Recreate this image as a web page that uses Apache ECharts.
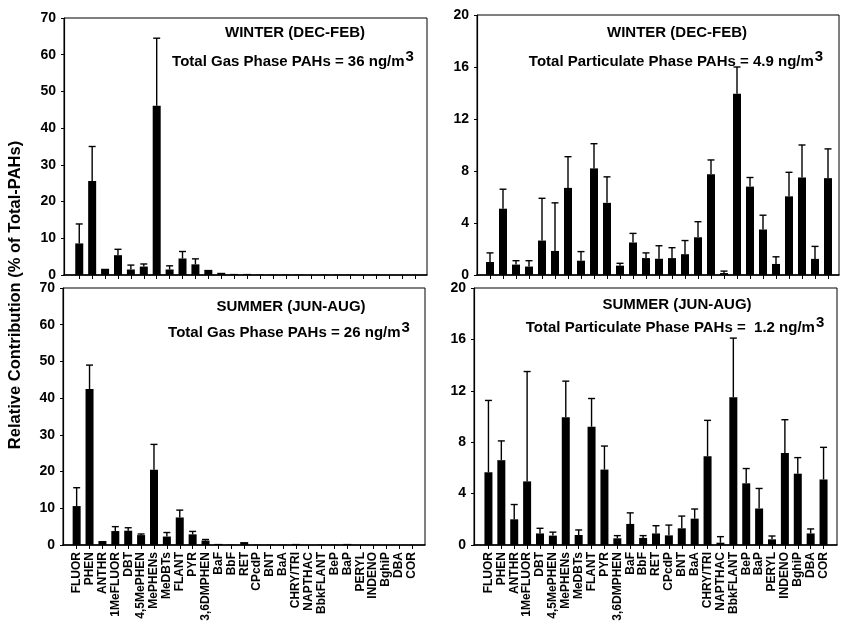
<!DOCTYPE html>
<html>
<head>
<meta charset="utf-8">
<script src="https://cdn.jsdelivr.net/npm/echarts@6/dist/echarts.min.js"></script>
<style>
  html, body { margin: 0; padding: 0; background: #fff; }
  #chart { width: 841px; height: 625px; }
</style>
</head>
<body>
<div id="chart"></div>
<script>
// Compound abbreviations along the x axis
const categories = ['FLUOR', 'PHEN', 'ANTHR', '1MeFLUOR', 'DBT', '4,5MePHEN', 'MePHENs', 'MeDBTs',
  'FLANT', 'PYR', '3,6DMPHEN', 'BaF', 'BbF', 'RET', 'CPcdP', 'BNT', 'BaA', 'CHRY/TRI', 'NAPTHAC',
  'BbkFLANT', 'BeP', 'BaP', 'PERYL', 'INDENO', 'BghiP', 'DBA', 'COR'];

// Winter gas phase (% of total PAHs) and upper error limits
const winterGas = [8.6, 25.6, 1.7, 5.4, 1.5, 2.3, 46.1, 1.5, 4.5, 2.9, 1.4, 0.6, 0.3, 0.3, 0.1, 0.1,
  0.1, 0.1, 0, 0.1, 0.1, 0.1, 0, 0.1, 0, 0, 0];
const winterGasUpper = [13.9, 35, null, 7.0, 2.7, 3.0, 64.5, 2.5, 6.4, 4.4, null, null, null, null,
  null, null, null, null, null, null, null, null, null, null, null, null, null];

// Winter particulate phase
const winterPart = [1.0, 5.1, 0.8, 0.65, 2.65, 1.85, 6.7, 1.1, 8.2, 5.55, 0.72, 2.5, 1.3, 1.25, 1.3,
  1.6, 2.9, 7.75, 0.15, 13.95, 6.8, 3.5, 0.85, 6.05, 7.5, 1.24, 7.45];
const winterPartUpper = [1.7, 6.6, 1.1, 1.1, 5.9, 5.55, 9.1, 1.8, 10.1, 7.55, 0.9, 3.2, 1.7, 2.25, 2.1,
  2.65, 4.1, 8.85, 0.3, 16.0, 7.5, 4.6, 1.4, 7.9, 10.0, 2.2, 9.7];

// Summer gas phase
const summerGas = [10.6, 42.5, 1.1, 3.8, 3.9, 2.7, 20.5, 2.3, 7.5, 2.9, 1.2, 0.3, 0.1, 0.8, 0.1, 0.1,
  0.1, 0.3, 0, 0.1, 0.1, 0.3, 0, 0, 0, 0, 0];
const summerGasUpper = [15.6, 49, null, 5.0, 4.7, 3.0, 27.4, 3.4, 9.5, 3.7, 1.5, null, null, null,
  null, null, null, null, null, null, null, null, null, null, null, null, null];

// Summer particulate phase
const summerPart = [5.66, 6.6, 2.0, 4.95, 0.9, 0.73, 9.95, 0.78, 9.2, 5.87, 0.52, 1.64, 0.55, 0.9, 0.75,
  1.3, 2.05, 6.9, 0.18, 11.5, 4.8, 2.84, 0.44, 7.15, 5.55, 0.9, 5.1];
const summerPartUpper = [11.25, 8.1, 3.15, 13.5, 1.3, 1.0, 12.75, 1.17, 11.4, 7.7, 0.73, 2.5, 0.73, 1.5,
  1.55, 2.25, 2.8, 9.7, 0.65, 16.1, 5.95, 4.4, 0.7, 9.75, 6.8, 1.25, 7.6];

// Panel headings
const seasonLabels = ['WINTER (DEC-FEB)', 'WINTER (DEC-FEB)', 'SUMMER (JUN-AUG)', 'SUMMER (JUN-AUG)'];
const totalLabels = ['Total Gas Phase PAHs = 36 ng/m', 'Total Particulate Phase PAHs = 4.9 ng/m',
  'Total Gas Phase PAHs = 26 ng/m', 'Total Particulate Phase PAHs =  1.2 ng/m'];
const yTitle = 'Relative Contribution (% of Total-PAHs)';

const FONT = '"Liberation Sans", Arial, Helvetica, sans-serif';

// Layout of the four panels: frame box and the narrower band holding the categories
const panels = [
  { frame: { left: 64, top: 18, width: 363, height: 257 }, band: { left: 72.8, width: 348.5 },
    max: 70, step: 10, values: winterGas, upper: winterGasUpper, labels: false,
    head: [295, 33], total: [293, 62] },
  { frame: { left: 477, top: 15, width: 362, height: 260 }, band: { left: 483.5, width: 351 },
    max: 20, step: 4, values: winterPart, upper: winterPartUpper, labels: false,
    head: [677, 33], total: [676, 62] },
  { frame: { left: 63, top: 288, width: 362, height: 257 }, band: { left: 70.2, width: 348 },
    max: 70, step: 10, values: summerGas, upper: summerGasUpper, labels: true,
    head: [291, 307], total: [289, 333] },
  { frame: { left: 474, top: 288, width: 363, height: 257 }, band: { left: 482, width: 348 },
    max: 20, step: 4, values: summerPart, upper: summerPartUpper, labels: true,
    head: [677, 305], total: [675, 328] }
];

const grid = [], xAxis = [], yAxis = [], series = [], graphic = [];

panels.forEach((p, k) => {
  const fi = grid.length;
  grid.push(Object.assign({ show: true, borderColor: '#000', borderWidth: 1, backgroundColor: 'transparent' }, p.frame));
  const di = grid.length;
  grid.push({ left: p.band.left, width: p.band.width, top: p.frame.top, height: p.frame.height });

  // frame axes: left value scale and bottom axis line
  xAxis.push({ gridIndex: fi, type: 'value', min: 0, max: 1,
    axisLine: { show: true, lineStyle: { color: '#000', width: 1.5 } },
    axisTick: { show: false }, axisLabel: { show: false }, splitLine: { show: false } });
  yAxis.push({ gridIndex: fi, type: 'value', min: 0, max: p.max, interval: p.step,
    axisLine: { show: true, lineStyle: { color: '#000', width: 1.2 } },
    axisTick: { show: true, length: 3, lineStyle: { color: '#000' } },
    axisLabel: { color: '#000', fontFamily: FONT, fontWeight: 'bold', fontSize: 14, margin: 8 },
    splitLine: { show: false } });

  // category band
  xAxis.push({ gridIndex: di, type: 'category', data: categories,
    axisLine: { show: false },
    axisTick: { show: true, alignWithLabel: true, length: 4, lineStyle: { color: '#000', width: 1 } },
    axisLabel: { show: p.labels, rotate: 90, interval: 0, color: '#000', fontFamily: FONT,
      fontWeight: 'bold', fontSize: 12, margin: 7 } });
  yAxis.push({ gridIndex: di, type: 'value', min: 0, max: p.max, show: false });

  const xi = xAxis.length - 1, yi = yAxis.length - 1;
  series.push({ type: 'bar', xAxisIndex: xi, yAxisIndex: yi, data: p.values, barWidth: 8,
    itemStyle: { color: '#000' }, silent: true, animation: false });

  const errData = [];
  p.upper.forEach((u, i) => { if (u != null) errData.push([i, p.values[i], u]); });
  series.push({ type: 'custom', xAxisIndex: xi, yAxisIndex: yi, data: errData, silent: true,
    animation: false, encode: { x: 0, y: [1, 2] },
    renderItem: function (params, api) {
      const c = api.value(0);
      const lo = api.coord([c, api.value(1)]);
      const hi = api.coord([c, api.value(2)]);
      const st = { stroke: '#000', lineWidth: 1.4 };
      return { type: 'group', children: [
        { type: 'line', shape: { x1: lo[0], y1: lo[1], x2: hi[0], y2: hi[1] }, style: st },
        { type: 'line', shape: { x1: hi[0] - 3.5, y1: hi[1], x2: hi[0] + 3.5, y2: hi[1] }, style: st }
      ] };
    } });

  graphic.push({ type: 'text', style: { text: seasonLabels[k], x: p.head[0], y: p.head[1],
    textAlign: 'center', textVerticalAlign: 'middle', fill: '#000',
    font: 'bold 15px ' + FONT } });
  graphic.push({ type: 'text', style: { text: totalLabels[k] + '{sup|3}', x: p.total[0], y: p.total[1],
    textAlign: 'center', textVerticalAlign: 'middle', fill: '#000',
    font: 'bold 15px ' + FONT,
    rich: { sup: { fontFamily: FONT, fontWeight: 'bold', fontSize: 15, padding: [0, 0, 11, 1] } } } });
});

graphic.push({ type: 'text', rotation: Math.PI / 2, x: 15, y: 295,
  style: { text: yTitle, textAlign: 'center', textVerticalAlign: 'middle', fill: '#000',
    font: 'bold 16.5px ' + FONT } });

const chart = echarts.init(document.getElementById('chart'), null, { renderer: 'canvas' });
chart.setOption({ animation: false, backgroundColor: '#fff', grid, xAxis, yAxis, series, graphic });
</script>
</body>
</html>
